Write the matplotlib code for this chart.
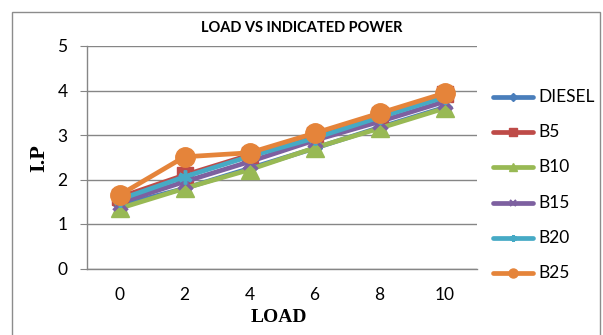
import matplotlib
matplotlib.use("Agg")
import matplotlib.pyplot as plt
from matplotlib.lines import Line2D
from matplotlib.patches import Rectangle

loads = [0, 2, 4, 6, 8, 10]
diesel = [1.42, 1.80, 2.25, 2.70, 3.17, 3.62]
b5 = [1.60, 2.10, 2.55, 3.00, 3.45, 3.92]
b10 = [1.35, 1.80, 2.22, 2.71, 3.15, 3.60]
b15 = [1.48, 1.95, 2.40, 2.88, 3.30, 3.75]
b20 = [1.55, 2.06, 2.52, 2.93, 3.40, 3.85]
b25 = [1.65, 2.51, 2.60, 3.04, 3.49, 3.94]
y_ticks = [0, 1, 2, 3, 4, 5]

series = [
    ("DIESEL", diesel, "#4A7EBB", "D", 7),
    ("B5", b5, "#BE4B48", "s", 11),
    ("B10", b10, "#98B954", "^", 13),
    ("B15", b15, "#7D60A0", "x", 10),
    ("B20", b20, "#46AAC5", (6, 2, 0), 10),
    ("B25", b25, "#E5843A", "o", 14),
]

fig = plt.figure(figsize=(6.03, 3.35), dpi=100, facecolor="white")
fig.add_artist(Rectangle((12 / 603, -0.05), 588 / 603, 1.05 - 12 / 335,
                         transform=fig.transFigure, fill=False,
                         edgecolor="#8c8c8c", linewidth=1.0))

ax = fig.add_axes([87 / 603, 66.5 / 335, 390 / 603, 222.5 / 335])
positions = list(range(len(loads)))
for name, values, color, marker, size in series:
    thin = marker in ("x", (6, 2, 0))
    ax.plot(positions, values, color=color, linewidth=3.4,
            marker=marker, markersize=size,
            markeredgewidth=2.5 if thin else 1.0,
            markeredgecolor=color, markerfacecolor=color,
            solid_capstyle="round", label=name)

ax.set_xlim(-0.5, len(loads) - 0.5)
ax.set_ylim(0, 5)
ax.set_xticks(positions, [str(v) for v in loads])
ax.set_yticks(y_ticks)
ax.tick_params(axis="x", length=0, pad=13, labelsize=12.5)
ax.tick_params(axis="y", length=5, color="#868686", pad=9, labelsize=12.5)
for lab in ax.get_xticklabels() + ax.get_yticklabels():
    lab.set_family("Lato")
ax.grid(axis="y", color="#868686", linewidth=1.0)
ax.set_axisbelow(True)
for side in ("top", "right"):
    ax.spines[side].set_visible(False)
for side in ("left", "bottom"):
    ax.spines[side].set_color("#868686")
    ax.spines[side].set_linewidth(1.0)

fig.text(302 / 603, 1 - 28 / 335, "LOAD VS INDICATED POWER",
         ha="center", va="center", fontsize=10.5, fontweight="bold",
         family="Lato")
fig.text(279 / 603, 1 - 318 / 335, "LOAD", ha="center", va="center",
         fontsize=14, fontweight="bold", family="Liberation Serif")
fig.text(39 / 603, 1 - 158 / 335, "I.P", ha="center", va="center",
         rotation=90, fontsize=16, fontweight="bold",
         family="Liberation Serif")

# legend drawn by hand on the right of the plot area, with small markers
legend_sizes = [4.5, 5.5, 6, 5, 5, 6.5]
for idx, (name, _, color, marker, _) in enumerate(series):
    y = 1 - (96.7 + 35.3 * idx) / 335
    fig.add_artist(Line2D([493 / 603, 533 / 603], [y, y],
                          transform=fig.transFigure, color=color,
                          linewidth=3.4, solid_capstyle="round"))
    fig.add_artist(Line2D([513 / 603], [y], transform=fig.transFigure,
                          linestyle="none", marker=marker,
                          markersize=legend_sizes[idx], color=color,
                          markeredgewidth=1.5 if idx in (3, 4) else 1.0))
    fig.text(538 / 603, y, name, ha="left", va="center", fontsize=12.5,
             family="Lato")

fig.savefig("out.png", dpi=100)
